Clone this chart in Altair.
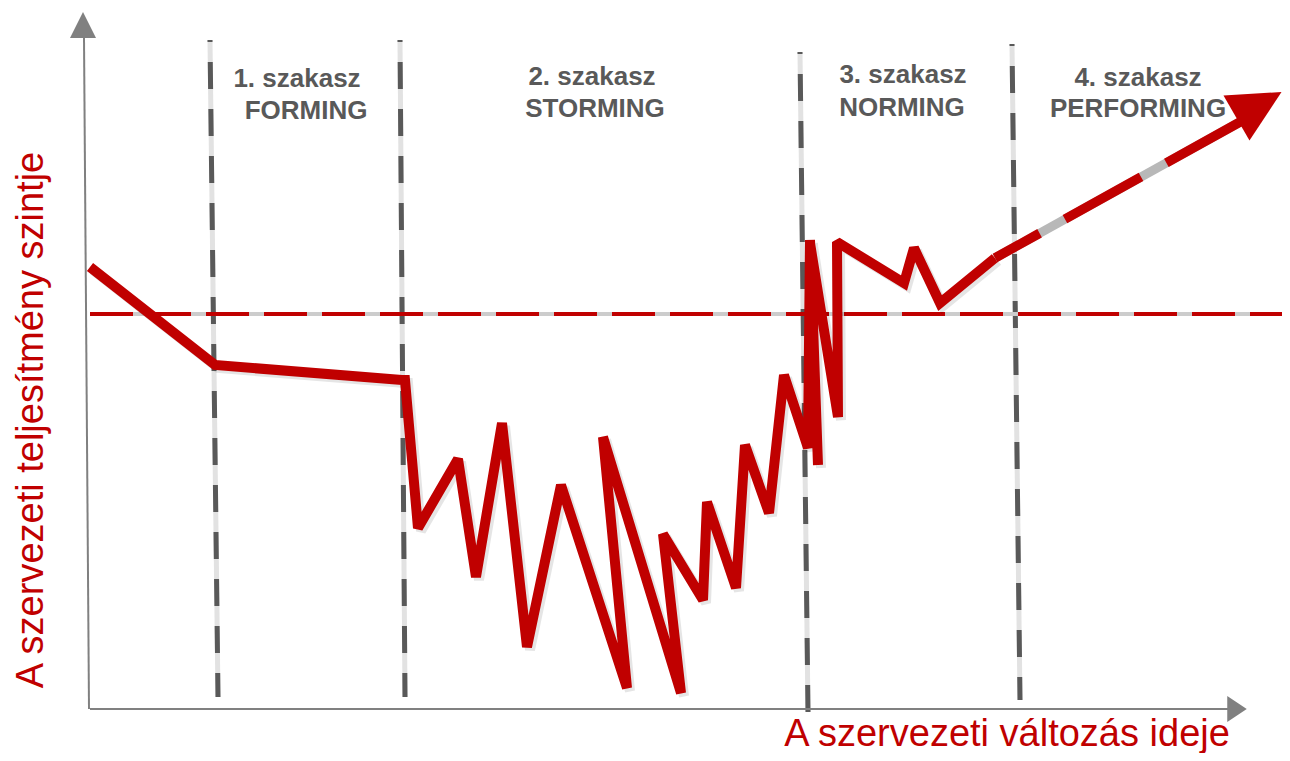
import altair as alt
import pandas as pd

# ---------------- data (chart units: time → right, performance level → up) ----------------
curve_time = [0, 125, 312, 315, 328, 368, 386, 412, 437, 471, 537, 513, 591, 573, 613, 617,
              646, 655, 679, 694, 718, 720, 728, 720, 748, 747, 814, 824, 850, 905]
curve_level = [442, 344, 329, 329, 181, 250, 132, 286, 62, 224, 21, 272, 16, 175, 109, 207,
               121, 264, 196, 334, 261, 469, 244, 466, 292, 467, 426, 461, 406, 451]

trend_time = [905, 1150]
trend_level = [451, 587]
trend_head_time = [1169]
trend_head_level = [604]

target_level = 395
target_time = [0, 1192]

phase_top_time = [120, 310, 710, 922]
phase_top_level = [669, 669, 657, 665]
phase_bottom_time = [128, 315, 718, 930]
phase_bottom_level = [12, 12, -3, 9]

phase_num = ["1. szakasz", "2. szakasz", "3. szakasz", "4. szakasz"]
phase_name = ["FORMING", "STORMING", "NORMING", "PERFORMING"]
phase_num_time = [207, 502, 813, 1048]
phase_num_level = [622, 624, 626, 623]
phase_name_time = [216, 505, 812, 1048]
phase_name_level = [590, 592, 593, 592]

x_title = "A szervezeti változás ideje"
y_title = "A szervezeti teljesítmény szintje"

# axis geometry in chart units
yaxis_time = [-1, -6]
yaxis_level = [0, 671]
xaxis_time = [0, 1140]
xaxis_level = [0, 0]
yhead = (-7, 684)
xhead = (1147, 0)

RED = "#c00000"
GRAY_AXIS = "#808080"
GRAY_DASH = "#595959"
FONT = "Liberation Sans"

xs = alt.Scale(domain=[-82, 1192], nice=False, zero=False)
ys = alt.Scale(domain=[-44, 701], nice=False, zero=False)


def X(f):
    return alt.X(f, type="quantitative", scale=xs, axis=None)


def Y(f):
    return alt.Y(f, type="quantitative", scale=ys, axis=None)


# ---------------- layers ----------------
curve_df = pd.DataFrame({"t": curve_time, "l": curve_level, "i": list(range(len(curve_time)))})
shadow_df = pd.DataFrame({"t": [v + 3 for v in curve_time], "l": [v - 3 for v in curve_level],
                          "i": list(range(len(curve_time)))})

shadow = alt.Chart(shadow_df).mark_line(color="#000000", opacity=0.10, strokeWidth=10,
                                        strokeMiterLimit=2).encode(
    x=X("t"), y=Y("l"), order="i:Q")

curve = alt.Chart(curve_df).mark_line(color=RED, strokeWidth=10, strokeMiterLimit=2).encode(
    x=X("t"), y=Y("l"), order="i:Q")

trend_df = pd.DataFrame({"t": trend_time, "l": trend_level})
trend_bg = alt.Chart(trend_df).mark_line(color="#b8b8b8", strokeWidth=9).encode(x=X("t"), y=Y("l"))
trend = alt.Chart(trend_df).mark_line(color=RED, strokeWidth=9.5, strokeDash=[87, 29],
                                      strokeDashOffset=36).encode(x=X("t"), y=Y("l"))
trend_head = alt.Chart(pd.DataFrame({"t": trend_head_time, "l": trend_head_level})).mark_point(
    shape="M0,-1L1,1L-1,1Z", filled=True, color=RED, opacity=1, size=2704, angle=60,
    strokeWidth=0).encode(x=X("t"), y=Y("l"))

target_df = pd.DataFrame({"t": [target_time[0]], "t2": [target_time[1]], "l": [target_level]})
target_bg = alt.Chart(target_df).mark_rule(color="#cccccc", strokeWidth=4).encode(
    x=X("t"), x2="t2", y=Y("l"))
target = alt.Chart(target_df).mark_rule(color=RED, strokeWidth=4, strokeDash=[43, 15]).encode(
    x=X("t"), x2="t2", y=Y("l"))

phase_df = pd.DataFrame({"t": phase_top_time, "l": phase_top_level,
                         "t2": phase_bottom_time, "l2": phase_bottom_level})
phase_bg = alt.Chart(phase_df).mark_rule(color="#e2e2e2", strokeWidth=5).encode(
    x=X("t"), y=Y("l"), x2="t2", y2="l2")
phase = alt.Chart(phase_df).mark_rule(color=GRAY_DASH, strokeWidth=5, strokeDash=[27, 20],
                                      strokeDashOffset=25).encode(
    x=X("t"), y=Y("l"), x2="t2", y2="l2")

num_df = pd.DataFrame({"t": phase_num_time, "l": phase_num_level, "txt": phase_num})
name_df = pd.DataFrame({"t": phase_name_time, "l": phase_name_level, "txt": phase_name})
num_text = alt.Chart(num_df).mark_text(font=FONT, fontSize=26, fontWeight="bold", color=GRAY_DASH,
                                       align="center", baseline="alphabetic").encode(
    x=X("t"), y=Y("l"), text="txt")
name_text = alt.Chart(name_df).mark_text(font=FONT, fontSize=26, fontWeight="bold", color=GRAY_DASH,
                                         align="center", baseline="alphabetic").encode(
    x=X("t"), y=Y("l"), text="txt")

yaxis = alt.Chart(pd.DataFrame({"t": [yaxis_time[0]], "l": [yaxis_level[0]],
                                "t2": [yaxis_time[1]], "l2": [yaxis_level[1]]})).mark_rule(
    color=GRAY_AXIS, strokeWidth=2).encode(x=X("t"), y=Y("l"), x2="t2", y2="l2")
xaxis = alt.Chart(pd.DataFrame({"t": [xaxis_time[0]], "l": [xaxis_level[0]],
                                "t2": [xaxis_time[1]], "l2": [xaxis_level[1]]})).mark_rule(
    color=GRAY_AXIS, strokeWidth=2).encode(x=X("t"), y=Y("l"), x2="t2", y2="l2")
yhead_m = alt.Chart(pd.DataFrame({"t": [yhead[0]], "l": [yhead[1]]})).mark_point(
    shape="M0,-1L1,1L-1,1Z", filled=True, color=GRAY_AXIS, opacity=1, size=676,
    strokeWidth=0).encode(x=X("t"), y=Y("l"))
xhead_m = alt.Chart(pd.DataFrame({"t": [xhead[0]], "l": [xhead[1]]})).mark_point(
    shape="M0.75,0L-0.75,1L-0.75,-1Z", filled=True, color=GRAY_AXIS, opacity=1, size=676,
    strokeWidth=0).encode(x=X("t"), y=Y("l"))

xtitle = alt.Chart(pd.DataFrame({"t": [917], "l": [-37], "txt": [x_title]})).mark_text(
    font=FONT, fontSize=38, color=RED, align="center", baseline="alphabetic").encode(
    x=X("t"), y=Y("l"), text="txt")
ytitle = alt.Chart(pd.DataFrame({"t": [-47], "l": [289], "txt": [y_title]})).mark_text(
    font=FONT, fontSize=38, color=RED, align="center", baseline="alphabetic", angle=270).encode(
    x=X("t"), y=Y("l"), text="txt")

chart = alt.layer(
    phase_bg, phase, target_bg, target, xaxis, yaxis, xhead_m, yhead_m,
    shadow, curve, trend_bg, trend, trend_head,
    num_text, name_text, xtitle, ytitle,
).properties(
    width=1274, height=745, padding=0,
    autosize=alt.AutoSizeParams(type="none"),
    background="white",
).configure_view(stroke=None)

chart.save("out.html", embed_options={"renderer": "svg", "actions": False})
